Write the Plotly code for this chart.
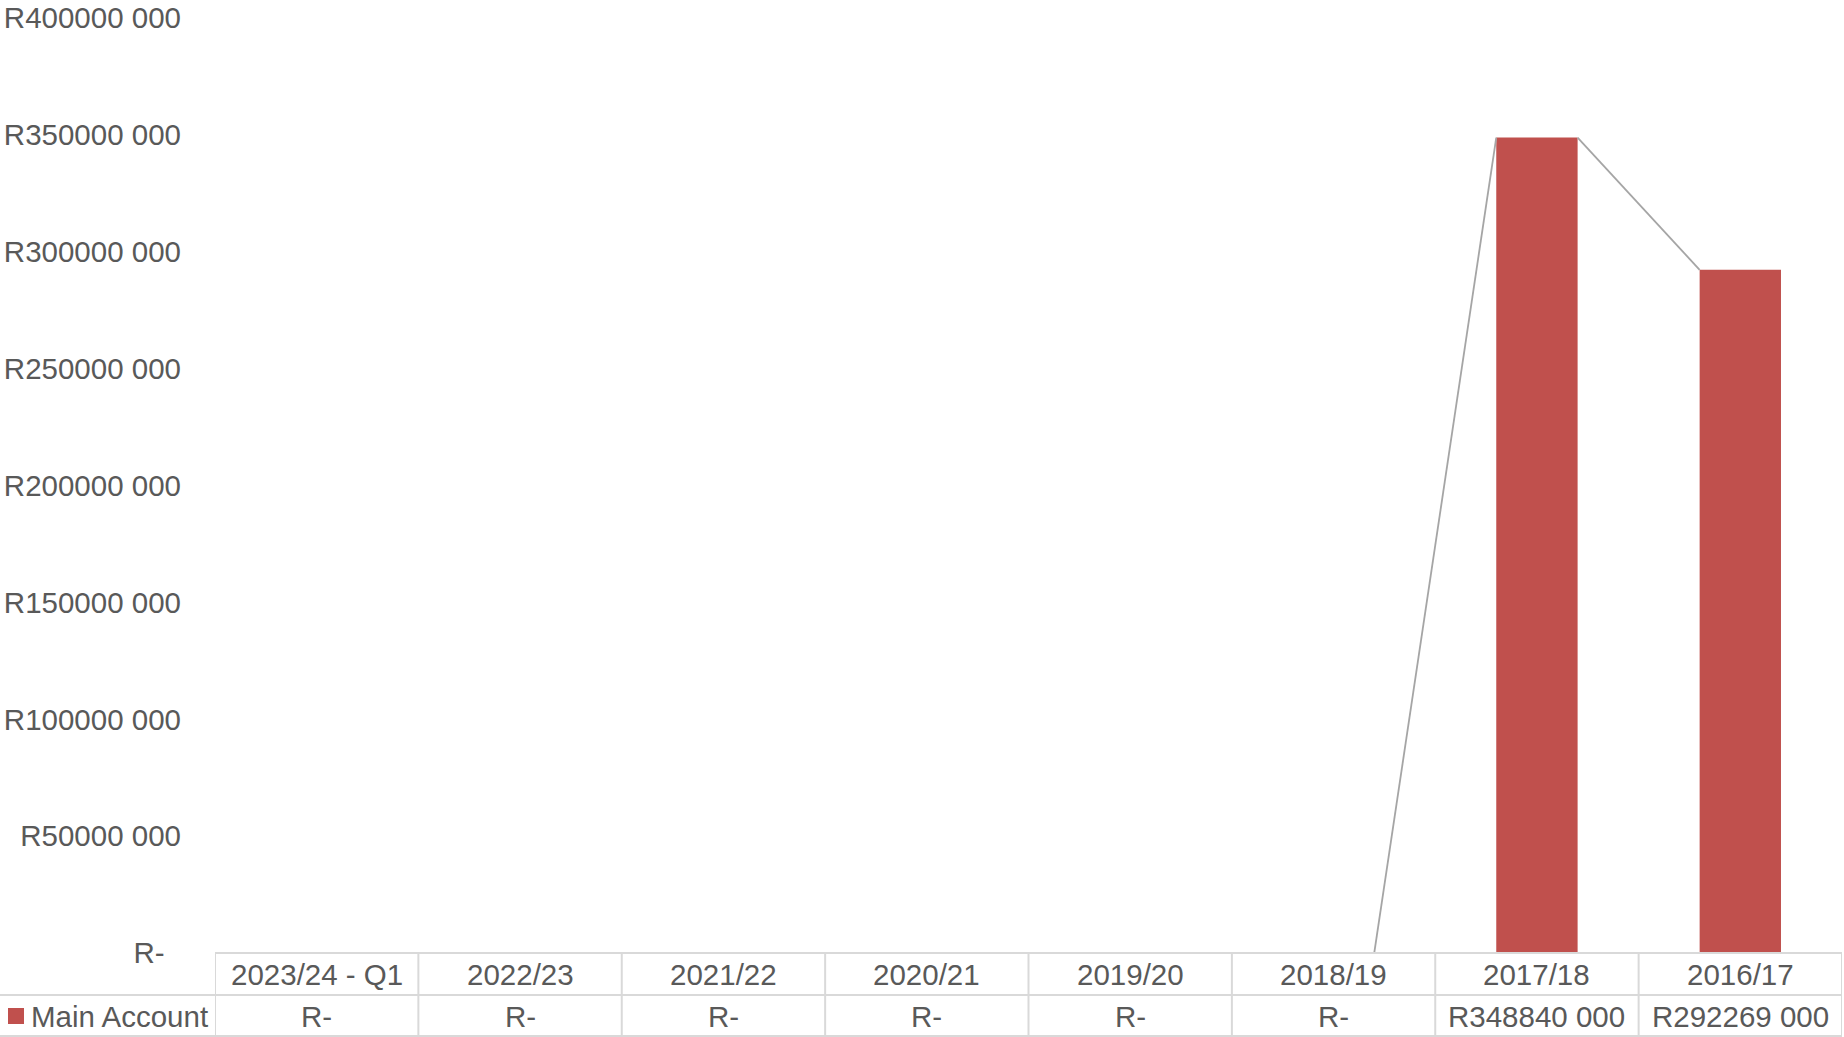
import plotly.graph_objects as go

# ---- data ----
categories = ["2023/24 - Q1", "2022/23", "2021/22", "2020/21", "2019/20", "2018/19", "2017/18", "2016/17"]
main_account = [0, 0, 0, 0, 0, 0, 348840000, 292269000]
series_name = "Main Account"
y_tick_values = [0, 50000000, 100000000, 150000000, 200000000, 250000000, 300000000, 350000000, 400000000]


def fmt_rand(v):
    if v == 0:
        return "R-"
    v = int(v)
    return "R" + str(v // 1000) + " " + f"{v % 1000:03d}"


# ---- layout constants (pixels) ----
W, H = 1844, 1037
L, R, T, B = 215, 2, 18, 84
PW, PH = W - L - R, H - T - B
TEXT = "#595959"
GRID = "#D9D9D9"
BAR = "#C0504D"
FONT = "Liberation Sans, Arial, sans-serif"
FS = 29.5
ROW_H = 42
BAR_W = 0.4


def pxx(px):
    return (px - L) / PW


def pxy(py):
    return (H - B - py) / PH


n = len(categories)
xs = list(range(n))

fig = go.Figure()

# series lines (connect top-right of bar i to top-left of bar i+1)
lx, ly = [], []
for i in range(n - 1):
    lx += [xs[i] + BAR_W / 2, xs[i + 1] - BAR_W / 2, None]
    ly += [main_account[i], main_account[i + 1], None]
fig.add_trace(go.Scatter(x=lx, y=ly, mode="lines", line=dict(color="#A5A5A5", width=1.8),
                         hoverinfo="skip", showlegend=False))

fig.add_trace(go.Bar(x=xs, y=main_account, width=BAR_W, marker=dict(color=BAR, line=dict(width=0)),
                     name=series_name, showlegend=False))

shapes = []
line_style = dict(color=GRID, width=2)
y_top = 0
y_mid = pxy(H - B + ROW_H)
y_bot = pxy(H - 1)
# horizontal lines
shapes.append(dict(type="line", xref="paper", yref="paper", x0=0, x1=1, y0=y_top, y1=y_top, line=line_style, layer="above"))
shapes.append(dict(type="line", xref="paper", yref="paper", x0=pxx(0), x1=1, y0=y_mid, y1=y_mid, line=line_style))
shapes.append(dict(type="line", xref="paper", yref="paper", x0=pxx(0), x1=1, y0=y_bot, y1=y_bot, line=line_style))
# vertical lines
for i in range(n + 1):
    shapes.append(dict(type="line", xref="x", yref="paper", x0=i - 0.5, x1=i - 0.5, y0=y_top, y1=y_bot, line=line_style))
# legend key
shapes.append(dict(type="rect", xref="paper", yref="paper", x0=pxx(8), x1=pxx(24),
                   y0=pxy(1016 + 8), y1=pxy(1016 - 8), fillcolor=BAR, line=dict(width=0)))

annotations = []
row1_y = pxy(H - B + ROW_H / 2)
row2_y = pxy(H - B + ROW_H * 1.5)
for i, (c, v) in enumerate(zip(categories, main_account)):
    annotations.append(dict(x=xs[i], y=row1_y, xref="x", yref="paper", text=c, showarrow=False,
                            font=dict(size=FS, color=TEXT, family=FONT), xanchor="center", yanchor="middle"))
    annotations.append(dict(x=xs[i], y=row2_y, xref="x", yref="paper", text=fmt_rand(v), showarrow=False,
                            font=dict(size=FS, color=TEXT, family=FONT), xanchor="center", yanchor="middle"))
annotations.append(dict(x=pxx(29), y=row2_y, xref="paper", yref="paper", text=series_name, showarrow=False,
                        font=dict(size=FS, color=TEXT, family=FONT), xanchor="left", yanchor="middle"))

tick_text = [fmt_rand(v) + ("\u00a0\u00a0" if v == 0 else "") for v in y_tick_values]

fig.update_layout(
    width=W, height=H,
    margin=dict(l=L, r=R, t=T, b=B, pad=0),
    paper_bgcolor="white", plot_bgcolor="white",
    font=dict(family=FONT, size=FS, color=TEXT),
    showlegend=False,
    shapes=shapes,
    annotations=annotations,
    xaxis=dict(range=[-0.5, n - 0.5], showticklabels=False, showgrid=False, zeroline=False, showline=False,
               ticks=""),
    yaxis=dict(range=[0, 400000000], tickvals=y_tick_values, ticktext=tick_text, showgrid=False,
               zeroline=False, showline=False, ticks="", ticklabelstandoff=33,
               tickfont=dict(size=FS, color=TEXT, family=FONT)),
    bargap=0.6,
)

fig.write_html("out.html")
